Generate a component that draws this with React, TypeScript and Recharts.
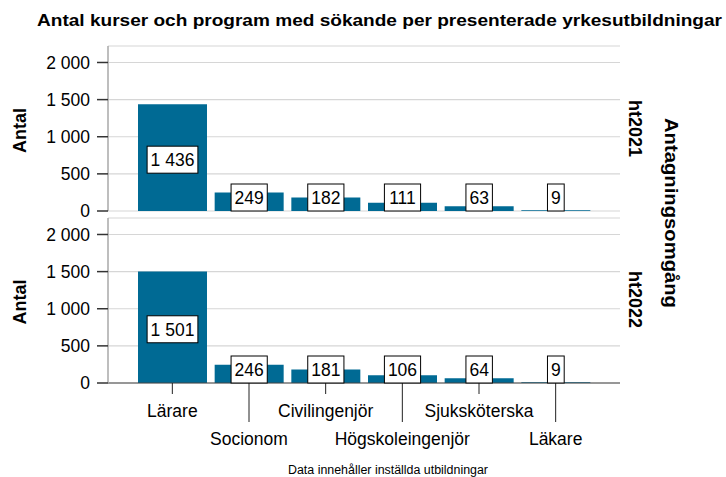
import React from 'react';
import { BarChart, Bar, XAxis, YAxis, CartesianGrid, LabelList } from 'recharts';

const categories = ['Lärare', 'Socionom', 'Civilingenjör', 'Högskoleingenjör', 'Sjuksköterska', 'Läkare'];
const ht2021 = [1436, 249, 182, 111, 63, 9];
const ht2022 = [1501, 246, 181, 106, 64, 9];
const yTicks = [0, 500, 1000, 1500, 2000];

const FONT = '"Liberation Sans", Arial, sans-serif';
const BAR = '#006a94';

const fmt = (v: number) => String(v).replace(/\B(?=(\d{3})+(?!\d))/g, ' ');

const textWidth = (s: string, size: number) =>
  s.split('').reduce((w, c) => w + (c === ' ' ? 0.278 : 0.556) * size, 0);

const ValueBox = (props: any) => {
  const { x, y, width, height, value } = props;
  const txt = fmt(value);
  const fs = 17.5;
  const w = textWidth(txt, fs) + 7;
  const h = 27;
  const zeroY = y + height;
  const cy = Math.min(y + height / 2 + 2, zeroY - h / 2);
  const cx = x + width / 2;
  return (
    <g>
      <rect x={cx - w / 2} y={cy - h / 2} width={w} height={h} fill="#fff" stroke="#000" strokeWidth={1} />
      <text x={cx} y={cy + 6.5} textAnchor="middle" fontSize={fs} fontFamily={FONT} fill="#000">
        {txt}
      </text>
    </g>
  );
};

const XTick = (props: any) => {
  const { x, y, payload, index } = props;
  const long = index % 2 === 1;
  return (
    <g>
      <line x1={x} x2={x} y1={y} y2={y + (long ? 39 : 11)} stroke="#222" strokeWidth={1} />
      <text x={x} y={y + (long ? 62 : 34)} textAnchor="middle" fontSize={17.5} fontFamily={FONT} fill="#000">
        {payload.value}
      </text>
    </g>
  );
};

const Panel = ({ values, bottom }: { values: number[]; bottom: boolean }) => {
  const data = categories.map((c, i) => ({ name: c, value: values[i] }));
  return (
    <BarChart
      width={726}
      height={bottom ? 281 : 222}
      data={data}
      margin={{ top: 46, right: 106, left: 0, bottom: bottom ? 0 : 11 }}
      barSize={69}
    >
      <CartesianGrid vertical={false} stroke="#d6d6d6" strokeWidth={1.2} />
      <XAxis
        dataKey="name"
        padding={{ left: 26, right: 26 }}
        height={bottom ? 70 : 0}
        axisLine={{ stroke: '#444', strokeWidth: 1.2 }}
        tickLine={false}
        tickSize={0}
        tickMargin={0}
        interval={0}
        tick={bottom ? <XTick /> : false}
      />
      <YAxis
        type="number"
        domain={[0, 2222]}
        ticks={yTicks}
        width={108}
        tickSize={11}
        tickMargin={7}
        axisLine={{ stroke: '#a8a8a8', strokeWidth: 1.5 }}
        tickLine={{ stroke: '#333', strokeWidth: 1.5 }}
        tickFormatter={fmt}
        tick={{ fontSize: 17.5, fontFamily: FONT, fill: '#000' }}
      />
      <Bar dataKey="value" fill={BAR} isAnimationActive={false}>
        <LabelList dataKey="value" content={<ValueBox />} />
      </Bar>
    </BarChart>
  );
};

export default function App() {
  return (
    <div style={{ position: 'absolute', left: 0, top: 0, width: 726, height: 477, background: '#fff' }}>
      <div style={{ position: 'absolute', left: 0, top: 0 }}>
        <Panel values={ht2021} bottom={false} />
      </div>
      <div style={{ position: 'absolute', left: 0, top: 172 }}>
        <Panel values={ht2022} bottom={true} />
      </div>
      <svg width={726} height={477} style={{ position: 'absolute', left: 0, top: 0, pointerEvents: 'none' }}>
        <text x={379.5} y={26} textAnchor="middle" fontSize={16} fontWeight="bold" fontFamily={FONT}
          textLength={685} lengthAdjust="spacingAndGlyphs">
          Antal kurser och program med sökande per presenterade yrkesutbildningar
        </text>
        <text transform="translate(26,130.5) rotate(-90)" textAnchor="middle" fontSize={18} fontWeight="bold" fontFamily={FONT}>
          Antal
        </text>
        <text transform="translate(26,302) rotate(-90)" textAnchor="middle" fontSize={18} fontWeight="bold" fontFamily={FONT}>
          Antal
        </text>
        <text transform="translate(629,128.5) rotate(90)" textAnchor="middle" fontSize={18} fontWeight="bold" fontFamily={FONT}>
          ht2021
        </text>
        <text transform="translate(629,299.5) rotate(90)" textAnchor="middle" fontSize={18} fontWeight="bold" fontFamily={FONT}>
          ht2022
        </text>
        <text transform="translate(665,213) rotate(90)" textAnchor="middle" fontSize={19} fontWeight="bold" fontFamily={FONT}
          textLength={190} lengthAdjust="spacingAndGlyphs">
          Antagningsomgång
        </text>
        <text x={388} y={474} textAnchor="middle" fontSize={12} fontFamily={FONT}
          textLength={200} lengthAdjust="spacingAndGlyphs">
          Data innehåller inställda utbildningar
        </text>
      </svg>
    </div>
  );
}
